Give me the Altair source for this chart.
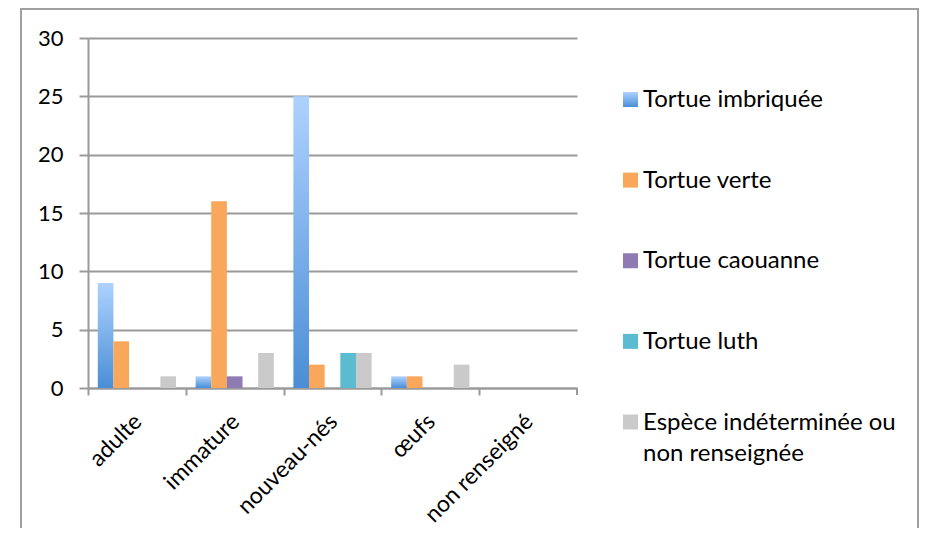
import altair as alt
import pandas as pd

categories = ["adulte", "immature", "nouveau-nés", "œufs", "non renseigné"]
series = [
    "Tortue imbriquée",
    "Tortue verte",
    "Tortue caouanne",
    "Tortue luth",
    "Espèce indéterminée ou non renseignée",
]
legend_lines = [
    ["Tortue imbriquée"],
    ["Tortue verte"],
    ["Tortue caouanne"],
    ["Tortue luth"],
    ["Espèce indéterminée ou", "non renseignée"],
]
imbriquee = [9, 1, 25, 1, 0]
verte = [4, 16, 2, 1, 0]
caouanne = [0, 1, 0, 0, 0]
luth = [0, 0, 3, 0, 0]
indeterminee = [1, 3, 3, 2, 0]
y_ticks = [0, 5, 10, 15, 20, 25, 30]

colors = ["#7aaee9", "#f9a75a", "#8f7bb2", "#5bbbd0", "#cacaca"]

rows = []
for s, vals in zip(series, [imbriquee, verte, caouanne, luth, indeterminee]):
    for c, v in zip(categories, vals):
        rows.append({"category": c, "series": s, "value": v})
df = pd.DataFrame(rows)
legend_df = pd.DataFrame({"series": series, "label": legend_lines})

FONT = "Lato"
W, H = 489, 350
step = W / len(categories)

blue_gradient = {
    "gradient": "linear",
    "x1": 0, "y1": 0, "x2": 0, "y2": 1,
    "stops": [
        {"offset": 0, "color": "#aed2ff"},
        {"offset": 1, "color": "#4a8ed6"},
    ],
}


def color_enc():
    return alt.condition(
        alt.datum.series == "Tortue imbriquée",
        alt.value(blue_gradient),
        alt.Color(
            "series:N",
            sort=series,
            scale=alt.Scale(domain=series, range=colors),
            legend=None,
        ),
    )


bars = alt.Chart(df).mark_bar().encode(
    x=alt.X(
        "category:N",
        sort=categories,
        scale=alt.Scale(paddingInner=0.2, paddingOuter=0.1),
        axis=alt.Axis(
            title=None,
            labelAngle=-45,
            tickOffset=-step / 2,
            labelOffset=step / 2 - 7,
            tickSize=7,
            labelPadding=15,
            labelFontSize=23,
        ),
    ),
    xOffset=alt.XOffset("series:N", sort=series, scale=alt.Scale(domain=series)),
    y=alt.Y(
        "value:Q",
        scale=alt.Scale(domain=[0, 30]),
        axis=alt.Axis(
            title=None,
            values=y_ticks,
            grid=True,
            tickSize=9,
            labelPadding=16,
            labelFontSize=22,
        ),
    ),
    color=color_enc(),
)

legend_y = alt.Y(
    "series:N",
    sort=series,
    scale=alt.Scale(domain=series, range=[61.5, 384], padding=0),
    axis=None,
)

legend_symbols = alt.Chart(legend_df).mark_square(size=225, strokeWidth=0, opacity=1).encode(
    x=alt.value(542.5),
    y=legend_y,
    color=color_enc(),
)

legend_text = alt.Chart(legend_df).mark_text(
    align="left",
    baseline="top",
    dy=-11.5,
    font=FONT,
    fontSize=24,
    lineHeight=31,
    color="#000000",
).encode(
    x=alt.value(555),
    y=legend_y,
    text="label:N",
)

one = pd.DataFrame({"k": [0]})
end_tick = alt.Chart(one).mark_rule(color="#9a9a9a", strokeWidth=2).encode(
    x=alt.value(W), y=alt.value(H), y2=alt.value(H + 7)
)
border = alt.Chart(one).mark_rect(fill=None, stroke="#a0a0a0", strokeWidth=2).encode(
    x=alt.value(-67), x2=alt.value(830), y=alt.value(-29), y2=alt.value(600)
)

chart = (
    alt.layer(border, bars, end_tick, legend_symbols, legend_text)
    .resolve_scale(y="independent")
    .properties(
        width=W,
        height=H,
        autosize=alt.AutoSizeParams(type="none"),
        padding={"left": 80, "top": 30, "right": 342, "bottom": 140},
    )
    .configure_view(stroke=None)
    .configure_axis(
        labelFont=FONT,
        labelColor="#000000",
        domainColor="#9a9a9a",
        domainWidth=2,
        tickColor="#9a9a9a",
        tickWidth=2,
        gridColor="#9a9a9a",
        gridWidth=2,
    )
)

chart.save("out.html", embed_options={"renderer": "svg", "actions": False})
